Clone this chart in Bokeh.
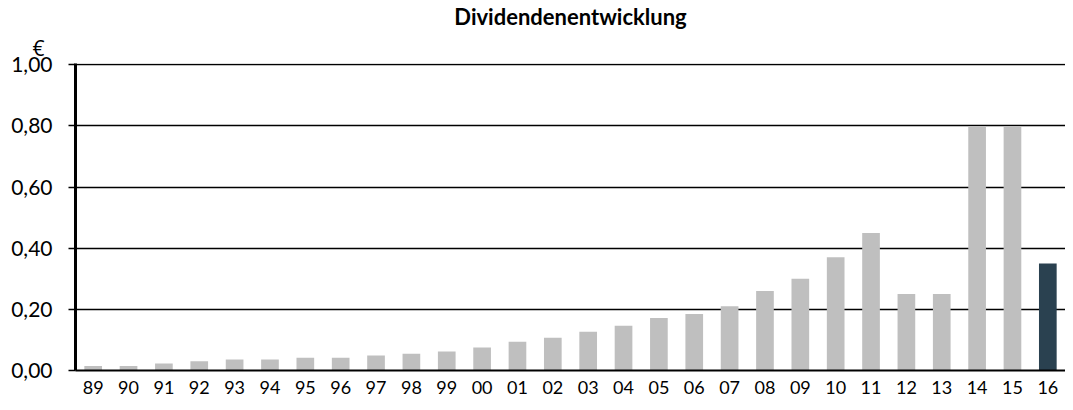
from bokeh.plotting import figure
from bokeh.models import Title, FixedTicker
from bokeh.embed import file_html
from bokeh.resources import INLINE

title_text = "Dividendenentwicklung"
unit_text = "€"
years = ["89", "90", "91", "92", "93", "94", "95", "96", "97", "98", "99", "00",
         "01", "02", "03", "04", "05", "06", "07", "08", "09", "10", "11", "12",
         "13", "14", "15", "16"]
dividends = [0.015, 0.015, 0.023, 0.030, 0.036, 0.036, 0.042, 0.042, 0.049, 0.055,
             0.062, 0.075, 0.094, 0.107, 0.127, 0.146, 0.172, 0.185, 0.21, 0.26,
             0.30, 0.37, 0.45, 0.25, 0.25, 0.80, 0.80, 0.35]
highlight_year = "16"
y_ticks = [0.0, 0.2, 0.4, 0.6, 0.8, 1.0]
y_tick_labels = ["0,00", "0,20", "0,40", "0,60", "0,80", "1,00"]

FONT = "Lato"
GREY = "#bfbfbf"
DARK = "#2a4150"
colors = [DARK if y == highlight_year else GREY for y in years]

p = figure(x_range=years, y_range=(0, 1.004), width=1065, height=402,
           title=None,
           min_border_left=75, min_border_right=0, min_border_top=62,
           min_border_bottom=32, output_backend="svg", toolbar_location=None)
p.outline_line_color = None
p.background_fill_color = "white"
p.border_fill_color = "white"

p.vbar(x=years, top=dividends, width=0.5, color=colors, line_color=None)

# grid
p.xgrid.grid_line_color = None
p.ygrid.grid_line_color = "black"
p.ygrid.grid_line_width = 1.6
p.ygrid.ticker = FixedTicker(ticks=y_ticks)

# y axis
p.yaxis.ticker = FixedTicker(ticks=y_ticks)
p.yaxis.major_label_overrides = {t: l for t, l in zip(y_ticks, y_tick_labels)}
p.yaxis.axis_line_color = "black"
p.yaxis.axis_line_width = 3
p.yaxis.major_tick_line_color = "black"
p.yaxis.major_tick_line_width = 1.6
p.yaxis.major_tick_out = 7
p.yaxis.major_tick_in = 0
p.yaxis.minor_tick_line_color = None
p.yaxis.major_label_standoff = 16
p.yaxis.major_label_text_font = FONT
p.yaxis.major_label_text_font_size = "21px"
p.yaxis.major_label_text_color = "black"

# x axis
p.xaxis.axis_line_color = "black"
p.xaxis.axis_line_width = 2
p.xaxis.major_tick_line_color = None
p.xaxis.major_tick_out = 0
p.xaxis.major_tick_in = 0
p.xaxis.minor_tick_line_color = None
p.xaxis.major_label_standoff = 10
p.xaxis.major_label_text_font = FONT
p.xaxis.major_label_text_font_size = "18px"
p.xaxis.major_label_text_color = "black"

# unit (closest to the frame) and main title (above it)
p.add_layout(Title(text=unit_text, align="left", offset=-43,
                   text_font="Open Sans", text_font_size="21px",
                   text_font_style="normal", text_color="black",
                   standoff=4), "above")
p.add_layout(Title(text=title_text, align="center",
                   text_font=FONT, text_font_size="22px",
                   text_font_style="bold", text_color="black",
                   standoff=0), "above")

open("out.html", "w").write(file_html(p, INLINE))
